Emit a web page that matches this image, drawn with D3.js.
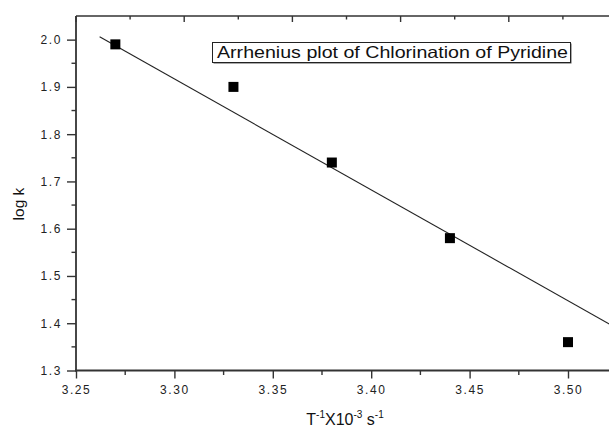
<!DOCTYPE html>
<html>
<head>
<meta charset="utf-8">
<script src="https://cdn.jsdelivr.net/npm/d3@7"></script>
<style>
  body { margin: 0; background: #fff; }
  svg { display: block; font-family: 'Liberation Sans', Arial, sans-serif; }
  .axis path, .axis line { stroke: #333; }
  .axis text { fill: #222; font-size: 12px; letter-spacing: 1.6px; }
</style>
</head>
<body>
<div class="canvas"></div>
<script>
// data
const invT = [3.27, 3.33, 3.38, 3.44, 3.50];
const logK = [1.99, 1.90, 1.74, 1.58, 1.36];
// fitted line ends (as drawn)
const fitX = [3.262, 3.525];
const fitY = [2.006, 1.389];
const xTicks = [3.25, 3.30, 3.35, 3.40, 3.45, 3.50];
const xMinor = [3.275, 3.325, 3.375, 3.425, 3.475, 3.525];
const yTicks = [1.3, 1.4, 1.5, 1.6, 1.7, 1.8, 1.9, 2.0];
const yMinor = [1.35, 1.45, 1.55, 1.65, 1.75, 1.85, 1.95];
const title = 'Arrhenius plot of Chlorination of Pyridine';

// set up dimensions
const width = 609;
const height = 429;
const margin = { top: 16, left: 76, bottom: 58 };

const svg = d3
  .select('.canvas')
  .append('svg')
  .attr('width', width)
  .attr('height', height);

// plot runs past the right edge of the window in the reference
const x = d3.scaleLinear().domain([3.25, 3.50]).range([margin.left, 568]);
const xTop = d3.scaleLinear().domain([3.25, 3.50]).range([margin.left, 617]);
const y = d3.scaleLinear().domain([1.3, 2.05]).range([height - margin.bottom - 0.5, margin.top]);
const bottomY = height - margin.bottom - 0.5;

// top frame line with inward ticks
const topG = svg.append('g').attr('class', 'axis')
  .attr('transform', `translate(0, ${margin.top})`);
topG.append('line').attr('x1', margin.left).attr('x2', width + 10)
  .attr('stroke-width', 1.6);
topG.selectAll('.tmaj').data(xTicks).enter().append('line')
  .attr('x1', d => xTop(d)).attr('x2', d => xTop(d))
  .attr('y1', 0).attr('y2', 6).attr('stroke-width', 1.4);
topG.selectAll('.tmin').data(xMinor).enter().append('line')
  .attr('x1', d => xTop(d)).attr('x2', d => xTop(d))
  .attr('y1', 0).attr('y2', 3.5).attr('stroke-width', 1.4);

// bottom axis
const xAxisGroup = svg.append('g').attr('class', 'axis')
  .attr('transform', `translate(0, ${bottomY})`);
xAxisGroup.call(
  d3.axisBottom(x).tickValues(xTicks).tickSize(8).tickSizeOuter(0).tickPadding(7)
    .tickFormat(d3.format('.2f'))
);
xAxisGroup.select('.domain').remove();
xAxisGroup.append('line').attr('x1', margin.left - 1).attr('x2', width + 10)
  .attr('stroke-width', 1.8);
xAxisGroup.selectAll('.tick line').attr('stroke-width', 1.4);
svg.append('g').attr('class', 'axis')
  .attr('transform', `translate(0, ${bottomY})`)
  .selectAll('line').data(xMinor).enter().append('line')
  .attr('x1', d => x(d)).attr('x2', d => x(d))
  .attr('y1', 0).attr('y2', 4.5).attr('stroke-width', 1.4);

// left axis
const yAxisGroup = svg.append('g').attr('class', 'axis')
  .attr('transform', `translate(${margin.left}, 0)`);
yAxisGroup.call(
  d3.axisLeft(y).tickValues(yTicks).tickSize(9).tickSizeOuter(0).tickPadding(5)
    .tickFormat(d3.format('.1f'))
);
yAxisGroup.select('.domain').remove();
yAxisGroup.append('line').attr('y1', margin.top).attr('y2', bottomY + 1)
  .attr('stroke-width', 1.8);
yAxisGroup.selectAll('.tick line').attr('stroke-width', 1.4);
yAxisGroup.selectAll('.minor').data(yMinor).enter().append('line')
  .attr('y1', d => y(d)).attr('y2', d => y(d))
  .attr('x1', 0).attr('x2', -4.5).attr('stroke-width', 1.4);

// fitted line
const line = d3.line().x(d => x(d[0])).y(d => y(d[1]));
svg.append('path')
  .datum(d3.zip(fitX, fitY))
  .attr('fill', 'none')
  .attr('stroke', '#222')
  .attr('stroke-width', 1.1)
  .attr('d', line);

// square markers
const size = 10;
svg.selectAll('rect.pt').data(d3.zip(invT, logK)).enter().append('rect')
  .attr('class', 'pt')
  .attr('x', d => x(d[0]) - size / 2)
  .attr('y', d => y(d[1]) - size / 2)
  .attr('width', size).attr('height', size)
  .attr('fill', '#000');

// title box
const tg = svg.append('g');
tg.append('rect').attr('x', 213.5).attr('y', 43.5).attr('width', 358).attr('height', 20)
  .attr('fill', '#555');
tg.append('rect').attr('x', 212.5).attr('y', 42.5).attr('width', 358).attr('height', 20)
  .attr('fill', '#fff').attr('stroke', '#222').attr('stroke-width', 1);
tg.append('text').attr('x', 217).attr('y', 58)
  .attr('font-size', 16.5).attr('fill', '#111')
  .attr('textLength', 351).attr('lengthAdjust', 'spacingAndGlyphs')
  .text(title);

// axis titles
const xt = svg.append('text').attr('x', 345).attr('y', 425)
  .attr('text-anchor', 'middle').attr('font-size', 16).attr('fill', '#111');
xt.append('tspan').text('T');
xt.append('tspan').attr('dy', -7).attr('font-size', 10).text('-1');
xt.append('tspan').attr('dy', 7).text('X10');
xt.append('tspan').attr('dy', -7).attr('font-size', 10).text('-3');
xt.append('tspan').attr('dy', 7).text(' s');
xt.append('tspan').attr('dy', -7).attr('font-size', 10).text('-1');

svg.append('text')
  .attr('transform', 'translate(24, 204) rotate(-90)')
  .attr('text-anchor', 'middle')
  .attr('font-size', 15.5).attr('fill', '#111')
  .text('log k');
</script>
</body>
</html>
